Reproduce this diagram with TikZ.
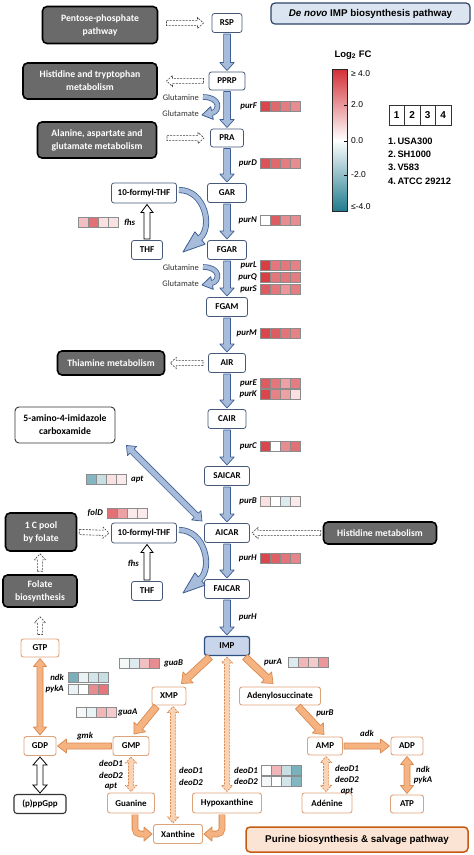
\documentclass[tikz,border=0pt]{standalone}
\usepackage{fontspec}
\setmainfont{Carlito}
\newfontfamily\arialf{Liberation Sans}
\usetikzlibrary{calc}
\definecolor{hr}{HTML}{D42E35}
\definecolor{ht}{HTML}{1F7B8E}
\definecolor{mainb}{HTML}{46597A}
\definecolor{bfill}{HTML}{A7BBDA}
\definecolor{bdraw}{HTML}{3D5E94}
\definecolor{gfill}{HTML}{6A6A6A}
\definecolor{ofill}{HTML}{F5B382}
\definecolor{odraw}{HTML}{DA8A50}
\definecolor{oboxd}{HTML}{DDA47C}
\definecolor{olight}{HTML}{FAD3B5}
\definecolor{pfill}{HTML}{FBE4D3}
\definecolor{pdraw}{HTML}{C55A11}
\definecolor{tfill}{HTML}{DBE4F1}
\definecolor{tdraw}{HTML}{2F4468}
\definecolor{impfill}{HTML}{C8D5EA}
\definecolor{impdraw}{HTML}{2F4F80}
% straight block arrow: style, from, to, half shaft, half head, head length
\newcommand{\blkarr}[6]{%
  \coordinate (bkC) at ($(#3)!#6!(#2)$);
  \path[#1] ($(#2)!#4!90:(#3)$) -- ($(bkC)!#4!90:(#3)$) -- ($(bkC)!#5!90:(#3)$) -- (#3)
    -- ($(bkC)!#5!-90:(#3)$) -- ($(bkC)!#4!-90:(#3)$) -- ($(#2)!#4!-90:(#3)$) -- cycle;}
% double headed block arrow
\newcommand{\dblkarr}[6]{%
  \coordinate (bkC) at ($(#3)!#6!(#2)$);
  \coordinate (bkD) at ($(#2)!#6!(#3)$);
  \path[#1] (#2) -- ($(bkD)!#5!90:(#3)$) -- ($(bkD)!#4!90:(#3)$) -- ($(bkC)!#4!90:(#3)$)
    -- ($(bkC)!#5!90:(#3)$) -- (#3) -- ($(bkC)!#5!-90:(#3)$) -- ($(bkC)!#4!-90:(#3)$)
    -- ($(bkD)!#4!-90:(#3)$) -- ($(bkD)!#5!-90:(#3)$) -- cycle;}
% head for a curved shaft: fill colour, draw style, base, tip, half shaft, half head
\newcommand{\curvhead}[6]{%
  \fill[#1] ($(#3)!#6!90:(#4)$) -- (#4) -- ($(#3)!#6!-90:(#4)$) -- cycle;
  \draw[#2] ($(#3)!#5!90:(#4)$) -- ($(#3)!#6!90:(#4)$) -- (#4) -- ($(#3)!#6!-90:(#4)$) -- ($(#3)!#5!-90:(#4)$);}
\newcommand{\hcells}[6]{\foreach \cc [count=\i from 0] in {#3,#4,#5,#6} {\draw[hcell, fill=\cc] ({#1+\i*10},{#2-5}) rectangle ++(10,10);}}
\tikzset{
  mbox/.style={draw=mainb, fill=white, rounded corners=2.5pt, line width=0.8pt,
    font=\bfseries\fontsize{9}{10}\selectfont, minimum height=19pt, inner sep=1pt, outer sep=1.5pt},
  gbox/.style={draw=black, fill=gfill, rounded corners=4.5pt, line width=1.6pt, text=white,
    font=\bfseries\fontsize{9.7}{13}\selectfont, align=center, inner sep=2pt},
  obx/.style={draw=oboxd, fill=white, rounded corners=2.5pt, line width=0.9pt,
    font=\bfseries\fontsize{9}{10}\selectfont, minimum height=19pt, inner sep=1pt, outer sep=1.5pt},
  wbox/.style={draw=black!80, fill=white, rounded corners=4pt, line width=0.9pt,
    font=\bfseries\fontsize{9.7}{13}\selectfont, align=center, inner sep=2pt},
  barrow/.style={fill=bfill, draw=bdraw, line width=0.7pt, line join=round},
  darrow/.style={fill=white, draw=black!75, line width=0.6pt, dash pattern=on 2pt off 1.2pt},
  oarrow/.style={fill=ofill, draw=odraw, line width=0.7pt, line join=round},
  odash/.style={fill=olight, draw=odraw, line width=0.7pt, dash pattern=on 2pt off 1.2pt},
  warrow/.style={fill=white, draw=black, line width=0.8pt},
  bshaft/.style={draw=bdraw, double=bfill, double distance=4.5pt, line width=0.8pt},
  oshaft/.style={draw=odraw, double=ofill, double distance=5pt, line width=0.8pt},
  gene/.style={font=\bfseries\itshape\fontsize{8.8}{10}\selectfont, inner sep=0pt},
  small/.style={font=\fontsize{8.5}{10}\selectfont, text=black!80, inner sep=0pt},
  hcell/.style={draw=black!45, line width=0.4pt},
  cbl/.style={font=\arialf\fontsize{8.5}{10}\selectfont, inner sep=0pt, anchor=west},
  leg/.style={font=\arialf\bfseries\fontsize{9.3}{11}\selectfont, inner sep=0pt, anchor=west}
}
\begin{document}
\begin{tikzpicture}[x=1pt,y=-1pt]
\useasboundingbox (0,0) rectangle (474,855);
\fill[white] (0,0) rectangle (474,855);

% ---------- title ----------
\node[draw=tdraw, fill=tfill, rounded corners=4pt, line width=1.2pt, minimum width=199pt, minimum height=21pt,
  font=\arialf\bfseries\fontsize{9.8}{11}\selectfont] (title) at (370.5,13.5) {\textit{De novo} IMP biosynthesis pathway};

% ---------- main column ----------
\node[mbox, minimum width=30pt] (RSP) at (227,23) {RSP};
\node[mbox, minimum width=36pt, minimum height=18pt] (PPRP) at (227,81) {PPRP};
\node[mbox, minimum width=33pt, minimum height=18pt] (PRA) at (227,138) {PRA};
\node[mbox, minimum width=39pt] (GAR) at (227,193) {GAR};
\node[mbox, minimum width=39pt] (FGAR) at (227,250) {FGAR};
\node[mbox, minimum width=41pt] (FGAM) at (227,307) {FGAM};
\node[mbox, minimum width=37pt] (AIR) at (227,363) {AIR};
\node[mbox, minimum width=38pt] (CAIR) at (227,419) {CAIR};
\node[mbox, minimum width=45pt] (SAICAR) at (227,476) {SAICAR};
\node[mbox, minimum width=45pt] (AICAR) at (227,533) {AICAR};
\node[mbox, minimum width=45pt] (FAICAR) at (227,589) {FAICAR};
\node[mbox, minimum width=45pt, fill=impfill, draw=impdraw, line width=1.3pt] (IMP) at (227,646) {IMP};

\foreach \a/\b in {RSP/PPRP,PPRP/PRA,PRA/GAR,GAR/FGAR,FGAR/FGAM,FGAM/AIR,AIR/CAIR,CAIR/SAICAR,SAICAR/AICAR,AICAR/FAICAR,FAICAR/IMP}
  {\blkarr{barrow}{\a.south}{\b.north}{3.4pt}{7.2pt}{8pt}}

% gene labels and cells, main column
\node[gene, anchor=east] (gF) at (257,106) {purF};
\hcells{260}{106}{hr!88!white}{hr!72!white}{hr!62!white}{hr!55!white}
\node[gene, anchor=east] (gD) at (257,163) {purD};
\hcells{260}{163}{hr!82!white}{hr!72!white}{hr!62!white}{hr!55!white}
\node[gene, anchor=east] (gN) at (257,220) {purN};
\hcells{260}{220}{white}{hr!78!white}{hr!55!white}{hr!55!white}
\node[gene, anchor=east] (gL) at (257,265) {purL};
\hcells{260}{265}{hr!92!white}{hr!65!white}{hr!65!white}{hr!60!white}
\node[gene, anchor=east] (gQ) at (257,277) {purQ};
\hcells{260}{277}{hr!92!white}{hr!65!white}{hr!65!white}{hr!62!white}
\node[gene, anchor=east] (gS) at (257,289) {purS};
\hcells{260}{289}{hr!78!white}{hr!65!white}{hr!50!white}{hr!62!white}
\node[gene, anchor=east] (gM) at (257,333) {purM};
\hcells{260}{333}{hr!88!white}{hr!78!white}{hr!66!white}{hr!60!white}
\node[gene, anchor=east] (gE) at (257,383) {purE};
\hcells{260}{383}{hr!78!white}{hr!65!white}{hr!45!white}{hr!62!white}
\node[gene, anchor=east] (gK) at (257,394) {purK};
\hcells{260}{394}{hr!88!white}{hr!60!white}{hr!45!white}{hr!15!white}
\node[gene, anchor=east] (gC) at (257,446) {purC};
\hcells{260}{446}{hr!88!white}{white}{hr!55!white}{hr!68!white}
\node[gene, anchor=east] (gB) at (257,501) {purB};
\hcells{260}{501}{hr!15!white}{white}{ht!15!white}{hr!10!white}
\node[gene, anchor=east] (gH) at (257,558) {purH};
\hcells{260}{558}{hr!88!white}{hr!76!white}{hr!66!white}{hr!58!white}
\node[gene, anchor=east] (gH2) at (257,617) {purH};

% ---------- grey side boxes ----------
\node[gbox, minimum width=115pt, minimum height=37pt] (pent) at (100,25) {Pentose-phosphate\\pathway};
\node[gbox, minimum width=134pt, minimum height=36pt] (histtry) at (90,81) {Histidine and tryptophan\\metabolism};
\node[gbox, minimum width=119pt, minimum height=36pt] (ala) at (97,140) {Alanine, aspartate and\\glutamate metabolism};
\node[gbox, minimum width=107pt, minimum height=24pt] (thia) at (111,363) {Thiamine metabolism};
\node[gbox, minimum width=113pt, minimum height=22pt] (histmet) at (380,533) {Histidine metabolism};
\node[gbox, minimum width=71pt, minimum height=38pt] (onec) at (41,532) {1 C pool\\by folate};
\node[gbox, minimum width=74pt, minimum height=32pt] (folbio) at (40,591) {Folate\\biosynthesis};

% dashed hollow arrows
\coordinate (d1a) at ($(RSP.west)+(-44,0)$); \coordinate (d1b) at ($(RSP.west)+(-7,0)$);
\blkarr{darrow}{d1a}{d1b}{2.6pt}{5.5pt}{6pt}
\coordinate (d2a) at ($(PPRP.west)+(-4,0)$); \coordinate (d2b) at ($(PPRP.west)+(-41,0)$);
\blkarr{darrow}{d2a}{d2b}{2.6pt}{5.5pt}{6pt}
\coordinate (d3a) at ($(PRA.west)+(-42,0)$); \coordinate (d3b) at ($(PRA.west)+(-5,0)$);
\blkarr{darrow}{d3a}{d3b}{2.6pt}{5.5pt}{6pt}
\coordinate (d4a) at ($(AIR.west)+(-4,0)$); \coordinate (d4b) at ($(thia.east)+(5,0)$);
\blkarr{darrow}{d4a}{d4b}{2.6pt}{5.5pt}{6pt}
\coordinate (d5a) at ($(histmet.west)+(-2,0)$); \coordinate (d5b) at ($(AICAR.east)+(1,0)$);
\blkarr{darrow}{d5a}{d5b}{2.6pt}{5.5pt}{6pt}

% ---------- glutamine curls ----------
\node[small, anchor=east] (gln1) at (199,98) {Glutamine};
\node[small, anchor=east] (glu1) at (199,114) {Glutamate};
\coordinate (c1s) at ($(gln1.east)+(4,-1)$);
\coordinate (c1b) at ($(glu1.east)+(13,-1)$);
\coordinate (c1t) at ($(glu1.east)+(3,1)$);
\draw[bshaft, double distance=4pt] (c1s) .. controls +(18,0) and +(8,-2) .. (c1b);
\curvhead{bfill}{bdraw, line width=0.8pt, line join=round}{c1b}{c1t}{2.4pt}{6.5pt}

\node[small, anchor=east] (gln2) at (199,268) {Glutamine};
\node[small, anchor=east] (glu2) at (199,284) {Glutamate};
\coordinate (c2s) at ($(gln2.east)+(4,-1)$);
\coordinate (c2b) at ($(glu2.east)+(13,-1)$);
\coordinate (c2t) at ($(glu2.east)+(3,1)$);
\draw[bshaft, double distance=4pt] (c2s) .. controls +(18,0) and +(8,-2) .. (c2b);
\curvhead{bfill}{bdraw, line width=0.8pt, line join=round}{c2b}{c2t}{2.4pt}{6.5pt}

% ---------- 10-formyl-THF cycles ----------
\node[mbox, minimum width=65pt, minimum height=20pt] (formyl1) at (144,193) {10-formyl-THF};
\node[mbox, minimum width=31pt] (thf1) at (147,250) {THF};
\coordinate (w1b) at (thf1.north |- formyl1.south);
\blkarr{warrow}{thf1.north}{w1b}{3pt}{6pt}{8pt}
\node[gene, anchor=west] (fhs1) at (124,222) {fhs};
\hcells{78}{222}{hr!30!white}{hr!68!white}{hr!15!white}{hr!15!white}
\coordinate (f1s) at ($(formyl1.east)+(1,-3)$);
\coordinate (f1b) at ($(thf1.east)+(36,-12)$);
\coordinate (f1t) at ($(thf1.east)+(19,2)$);
\draw[bshaft] (f1s) .. controls +(26,0) and +(13,-11) .. (f1b);
\curvhead{bfill}{bdraw, line width=0.8pt, line join=round}{f1b}{f1t}{2.65pt}{8pt}

\node[mbox, minimum width=65pt, minimum height=20pt] (formyl2) at (144,533) {10-formyl-THF};
\node[mbox, minimum width=31pt] (thf2) at (147,591) {THF};
\coordinate (w2b) at (thf2.north |- formyl2.south);
\blkarr{warrow}{thf2.north}{w2b}{3pt}{6pt}{8pt}
\node[gene, anchor=east] (fhs2) at (139,563) {fhs};
\coordinate (f2s) at ($(formyl2.east)+(1,-3)$);
\coordinate (f2b) at ($(thf2.east)+(36,-12)$);
\coordinate (f2t) at ($(thf2.east)+(19,2)$);
\draw[bshaft] (f2s) .. controls +(26,0) and +(13,-11) .. (f2b);
\curvhead{bfill}{bdraw, line width=0.8pt, line join=round}{f2b}{f2t}{2.65pt}{8pt}

\coordinate (d6a) at ($(onec.east)+(2,0)$); \coordinate (d6b) at ($(formyl2.west)+(-1,0)$);
\blkarr{darrow}{d6a}{d6b}{2.6pt}{5.5pt}{6pt}
\coordinate (d7a) at ($(folbio.north)+(0,-3)$); \coordinate (d7b) at ($(folbio.north |- onec.south)+(0,2)$);
\blkarr{darrow}{d7a}{d7b}{2.6pt}{5.5pt}{6pt}

% ---------- 5-amino-4-imidazole carboxamide ----------
\node[wbox, minimum width=100pt, minimum height=36pt] (amino) at (65,425) {5-amino-4-imidazole\\carboxamide};
\coordinate (am1) at ($(amino.south east)+(11,2)$);
\coordinate (am2) at ($(AICAR.north west)+(-1,-1)$);
\dblkarr{barrow}{am1}{am2}{3pt}{6.5pt}{8pt}
\node[gene, anchor=west] (gapt) at (131,479) {apt};
\hcells{86}{479}{ht!55!white}{ht!25!white}{hr!15!white}{hr!10!white}
\node[gene, anchor=east] (gfolD) at (103,513) {folD};
\hcells{107}{513}{hr!68!white}{hr!45!white}{hr!10!white}{hr!10!white}

% ---------- purine biosynthesis and salvage ----------
\node[obx, minimum width=38pt, minimum height=18pt] (GTP) at (40,648) {GTP};
\node[obx, minimum width=32pt] (GDP) at (40,746) {GDP};
\node[wbox, font=\bfseries\fontsize{9}{10}\selectfont, rounded corners=3pt, line width=1.1pt, minimum width=52pt, minimum height=19pt, outer sep=1.5pt] (ppGpp) at (40,804) {(p)ppGpp};
\node[obx, minimum width=36pt] (GMP) at (131,746) {GMP};
\node[obx, minimum width=34pt, minimum height=18pt] (XMP) at (169,696) {XMP};
\node[obx, minimum width=47pt, minimum height=20pt] (Guanine) at (131,803) {Guanine};
\node[obx, minimum width=49pt] (Xanthine) at (178,834) {Xanthine};
\node[obx, minimum width=69pt, minimum height=20pt] (Hypox) at (227,803) {Hypoxanthine};
\node[obx, minimum width=81pt, minimum height=18pt] (Adeno) at (280,696) {Adenylosuccinate};
\node[obx, minimum width=35pt, minimum height=18pt] (AMP) at (325,746) {AMP};
\node[obx, minimum width=32pt, minimum height=18pt] (ADP) at (407,746) {ADP};
\node[obx, minimum width=33pt, minimum height=18pt] (ATP) at (407,804) {ATP};
\node[obx, minimum width=50pt, minimum height=20pt] (Adenine) at (327,803) {Adénine};

\coordinate (d8a) at ($(GTP.north)+(0,-3)$); \coordinate (d8b) at ($(folbio.south)+(0,9)$);
\blkarr{darrow}{d8a}{d8b}{2.6pt}{5.5pt}{6pt}

\dblkarr{oarrow}{GTP.south}{GDP.north}{3pt}{6.5pt}{8pt}
\dblkarr{warrow}{GDP.south}{ppGpp.north}{3pt}{7pt}{8pt}
\blkarr{oarrow}{GMP.west}{GDP.east}{3pt}{7pt}{9pt}
\dblkarr{odash}{GMP.south}{Guanine.north}{2.6pt}{5.5pt}{6pt}
\coordinate (xa) at ($(XMP.south)+(4,0)$); \coordinate (xb) at (xa |- Xanthine.north);
\dblkarr{odash}{xa}{xb}{2.6pt}{5.5pt}{6pt}
\dblkarr{odash}{IMP.south}{Hypox.north}{2.6pt}{5.5pt}{6pt}
\coordinate (aa) at ($(AMP.south)+(1,0)$); \coordinate (ab) at (aa |- Adenine.north);
\dblkarr{odash}{aa}{ab}{2.6pt}{5.5pt}{6pt}
\dblkarr{oarrow}{ADP.south}{ATP.north}{3pt}{6.5pt}{8pt}
\blkarr{oarrow}{AMP.east}{ADP.west}{3pt}{7pt}{9pt}
\coordinate (ix1) at ($(IMP.south west)+(7,0)$); \coordinate (ix2) at ($(XMP.north east)+(-6,-2)$);
\blkarr{oarrow}{ix1}{ix2}{3.5pt}{7.5pt}{9pt}
\coordinate (ia1) at ($(IMP.south east)+(-6,0)$); \coordinate (ia2) at ($(Adeno.north)+(-7,-2)$);
\blkarr{oarrow}{ia1}{ia2}{3.5pt}{7.5pt}{9pt}
\coordinate (xg1) at ($(XMP.south west)+(6,0)$); \coordinate (xg2) at ($(GMP.north)+(3,-1)$);
\blkarr{oarrow}{xg1}{xg2}{3.5pt}{7.5pt}{9pt}
\coordinate (ad1) at ($(Adeno.south)+(18,0)$); \coordinate (ad2) at ($(AMP.north)+(-1,-1)$);
\blkarr{oarrow}{ad1}{ad2}{3.5pt}{7.5pt}{9pt}

% L-shaped arrows into Xanthine
\coordinate (gx1) at ($(Guanine.south)+(4,0)$);
\coordinate (gxb) at ($(Xanthine.west)+(-8,0)$);
\draw[oshaft, rounded corners=5pt] (gx1) |- (gxb);
\curvhead{ofill}{odraw, line width=0.8pt, line join=round}{gxb}{Xanthine.west}{2.9pt}{7pt}
\coordinate (hx1) at ($(Hypox.south)+(-5,0)$);
\coordinate (hxb) at ($(Xanthine.east)+(8,0)$);
\draw[oshaft, rounded corners=5pt] (hx1) |- (hxb);
\curvhead{ofill}{odraw, line width=0.8pt, line join=round}{hxb}{Xanthine.east}{2.9pt}{7pt}

% labels and cells, lower part
\node[gene, anchor=west] (gguaB) at (164,663) {guaB};
\hcells{119}{663}{ht!5!white}{ht!15!white}{hr!30!white}{hr!55!white}
\node[gene, anchor=west] (gpurA) at (264,662) {purA};
\hcells{288}{662}{ht!15!white}{hr!35!white}{hr!25!white}{hr!50!white}
\node[gene, anchor=east] (gndk1) at (64,677) {ndk};
\node[gene, anchor=east] (gpyk1) at (64,689) {pykA};
\hcells{68}{677}{ht!60!white}{ht!10!white}{ht!20!white}{ht!25!white}
\hcells{68}{689}{ht!10!white}{white}{hr!55!white}{hr!65!white}
\node[gene, anchor=west] (gguaA) at (118,712) {guaA};
\hcells{76}{712}{ht!5!white}{ht!10!white}{hr!35!white}{hr!25!white}
\node[gene] (ggmk) at (85,736) {gmk};
\node[gene] (gl1) at (111,763) {deoD1};
\node[gene] (gl2) at (111,775) {deoD2};
\node[gene] (gl3) at (111,786) {apt};
\node[gene] (gm1) at (191,770) {deoD1};
\node[gene] (gm2) at (191,782) {deoD2};
\node[gene, anchor=east] (gr1) at (258,770) {deoD1};
\node[gene, anchor=east] (gr2) at (258,781) {deoD2};
\hcells{261}{770}{white}{hr!35!white}{ht!25!white}{ht!60!white}
\hcells{261}{781}{ht!5!white}{white}{ht!20!white}{ht!55!white}
\node[gene] (gpurB2) at (325,713) {purB};
\node[gene] (gadk) at (367,733) {adk};
\node[gene] (ga1) at (347,768) {deoD1};
\node[gene] (ga2) at (347,779) {deoD2};
\node[gene] (ga3) at (347,791) {apt};
\node[gene] (gn2) at (423,769) {ndk};
\node[gene] (gp2) at (423,780) {pykA};

\node[draw=pdraw, fill=pfill, rounded corners=4pt, line width=1.5pt, minimum width=222pt, minimum height=25pt,
  font=\arialf\bfseries\fontsize{9.8}{11}\selectfont] (purine) at (357,839.5) {Purine biosynthesis \& salvage pathway};

% ---------- colour bar and legend ----------
\node[font=\arialf\bfseries\fontsize{9.5}{10}\selectfont, inner sep=0pt] (cbt) at (353,55) {Log\textsubscript{2} FC};
\node[draw=black!85, line width=0.6pt, top color=hr, bottom color=ht, middle color=white,
  minimum width=15pt, minimum height=142pt, inner sep=0pt] (cbar) at (339.5,140) {};
\foreach \yy in {105,141,175} {\draw[line width=0.6pt] (cbar.east |- 0,\yy) -- ++(-3,0);}
\node[cbl] (cl1) at (351,74) {≥ 4.0};
\node[cbl] (cl2) at (351,105) {2.0};
\node[cbl] (cl3) at (351,141) {0.0};
\node[cbl] (cl4) at (351,175) {-2.0};
\node[cbl] (cl5) at (351,207) {≤-4.0};
\foreach \i in {1,...,4} {\node[draw=black!80, line width=0.6pt, minimum width=15.5pt, minimum height=20pt, inner sep=0pt,
  font=\arialf\bfseries\fontsize{10}{11}\selectfont] (lgc\i) at ({389+15.5*(\i-0.5)},115) {\i};}
\node[leg] (lt1) at (388,141) {1.\,USA300};
\node[leg] (lt2) at (388,154) {2.\,SH1000};
\node[leg] (lt3) at (388,167) {3.\,V583};
\node[leg] (lt4) at (388,181) {4.\,ATCC 29212};
\end{tikzpicture}
\end{document}
